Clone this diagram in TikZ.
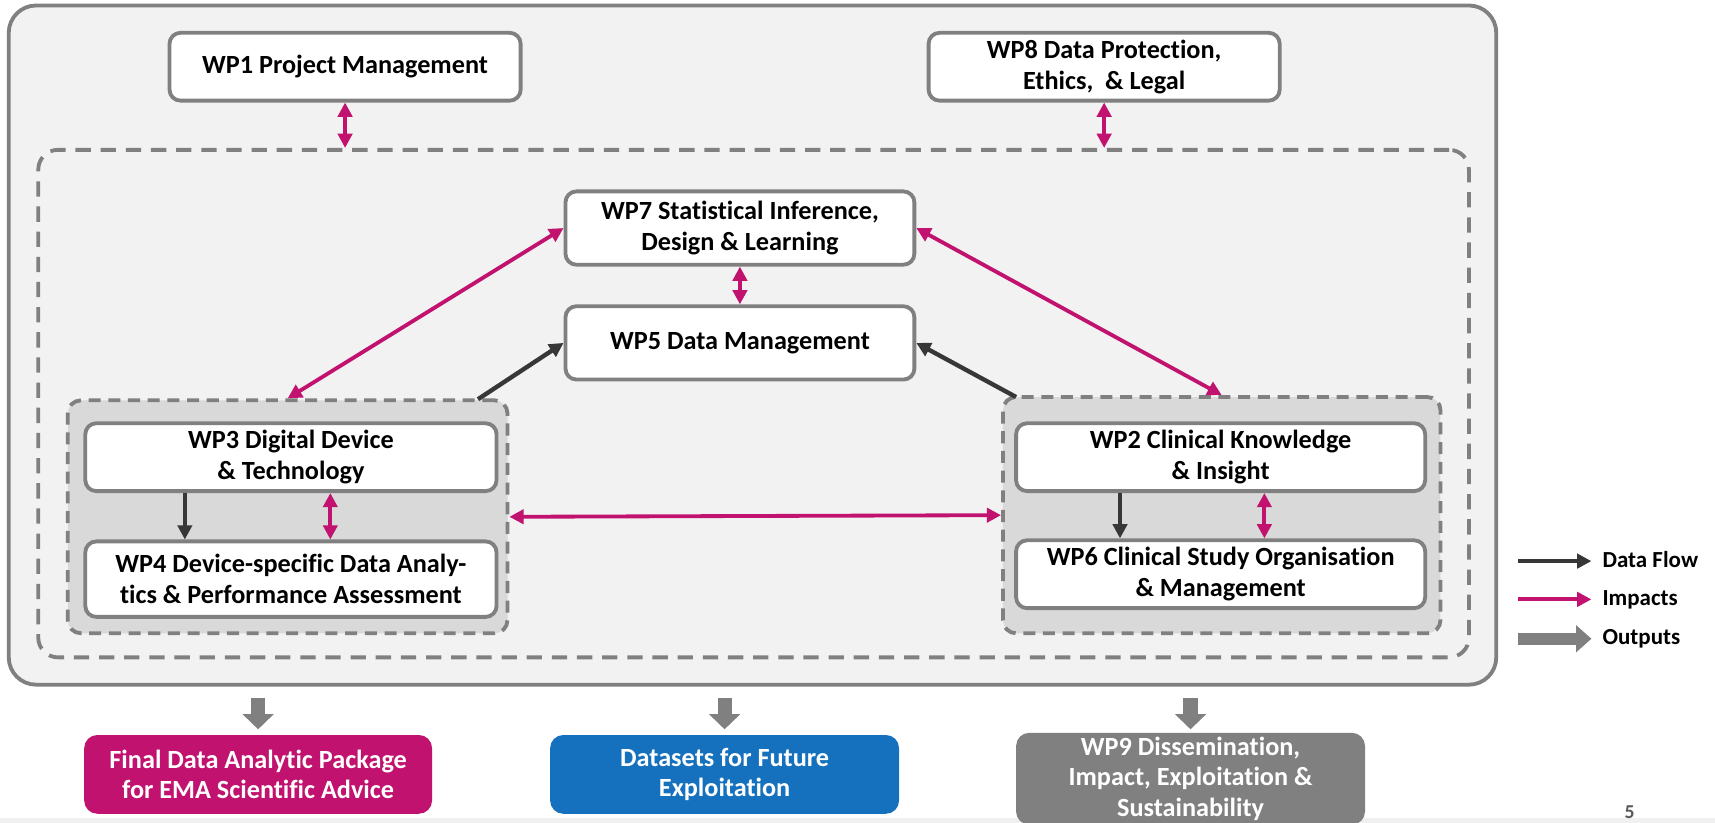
\documentclass[tikz,border=0pt]{standalone}
\usepackage{fontspec}
\setmainfont{Carlito}[Ligatures=NoCommon]
\usepackage{tikz}
\usetikzlibrary{arrows.meta,calc}

\definecolor{impact}{RGB}{192,18,110}
\definecolor{flowc}{RGB}{55,55,55}
\definecolor{edgegray}{RGB}{128,128,128}
\definecolor{panel}{RGB}{242,242,242}
\definecolor{grpfill}{RGB}{217,217,217}
\definecolor{dsblue}{RGB}{21,113,190}

\begin{document}
\begin{tikzpicture}[x=1pt,y=-1pt,>={Triangle[length=13pt,width=13pt]},
	wp/.style={draw=edgegray,line width=3.5pt,fill=white,rounded corners=10pt,align=center,inner sep=0pt,font=\bfseries\fontsize{24}{28}\selectfont},
	grp/.style={draw=edgegray,line width=3.5pt,fill=grpfill,dash pattern=on 11pt off 7pt,rounded corners=12pt},
	res/.style={rounded corners=12pt,text=white,align=center,inner sep=0pt,font=\bfseries\fontsize{24}{28}\selectfont},
	legend/.style={anchor=west,inner sep=0pt,text height=15pt,text depth=4pt,font=\bfseries\fontsize{21}{24}\selectfont},
	imp/.style={impact,line width=3.5pt,<->},
	flow/.style={flowc,line width=4pt,->},
	outp/.style={edgegray,line width=13pt,-{Triangle[length=14pt,width=28pt]}}]
	\useasboundingbox (0,0) rectangle (1568,752);
	\fill[black!6] (0,748) rectangle (1568,752);
	% frames
	\node[draw=edgegray,line width=3.5pt,fill=panel,rounded corners=25pt,minimum width=1360pt,minimum height=621pt] at (688,315.5) (outer) {};
	\node[draw=edgegray,line width=3.5pt,dash pattern=on 14pt off 9pt,rounded corners=18pt,minimum width=1308pt,minimum height=464pt] at (689,369) (core) {};
	\node[grp,minimum width=402pt,minimum height=213pt] at (263,472.5) (grpL) {};
	\node[grp,minimum width=400pt,minimum height=216pt] at (1117,471) (grpR) {};
	% work packages
	\node[wp,minimum width=321pt,minimum height=62pt] at (315.5,61) (wp1) {WP1 Project Management};
	\node[wp,minimum width=321pt,minimum height=62pt] at (1009.5,61) (wp8) {WP8 Data Protection,\\Ethics,\ \ \& Legal};
	\node[wp,minimum width=319pt,minimum height=67pt] at (676.5,208.5) (wp7) {WP7 Statistical Inference,\\Design \& Learning};
	\node[wp,minimum width=319pt,minimum height=67pt] at (676.5,313.5) (wp5) {WP5 Data Management};
	\node[wp,minimum width=376pt,minimum height=62pt] at (266,418) (wp3) {WP3 Digital Device\\\& Technology};
	\node[wp,minimum width=376pt,minimum height=69pt] at (266,529.5) (wp4) {WP4 Device-specific Data Analy-\\tics \& Performance Assessment};
	\node[wp,minimum width=374pt,minimum height=62pt] at (1116,418) (wp2) {WP2 Clinical Knowledge\\\& Insight};
	\node[wp,minimum width=374pt,minimum height=62pt] at (1116,525) (wp6) {WP6 Clinical Study Organisation\\\& Management};
	% results
	\node[res,fill=impact,minimum width=318pt,minimum height=72pt] at (236,708) (fin) {Final Data Analytic Package\\for EMA Scientific Advice};
	\node[res,fill=dsblue,minimum width=319pt,minimum height=72pt] at (662.5,708) (dset) {Datasets for Future\\Exploitation};
	\node[res,fill=edgegray,minimum width=319pt,minimum height=84pt] at (1088.5,712) (wp9) {WP9 Dissemination,\\Impact, Exploitation \&\\Sustainability};
	% connectors
	\coordinate (flowL) at (437,365);
	\coordinate (flowR) at (929,363);
	\path[imp] (wp1) edge (wp1 |- core.north);
	\path[imp] (wp8) edge (wp8 |- core.north);
	\path[imp] (wp7) edge (wp5);
	\path[imp] (wp7.west) edge (grpL.north);
	\path[imp] (wp7.east) edge (grpR.north);
	\path[imp] (grpL.east) edge (grpR.west);
	\path[flow] (flowL) edge (wp5.west);
	\path[flow] (flowR) edge (wp5.east);
	\path[flow] ([xshift=-97pt]wp3.south) edge ([xshift=-97pt]wp4.north);
	\path[imp] ([xshift=36pt]wp3.south) edge ([xshift=36pt]wp4.north);
	\path[flow] ([xshift=-92pt]wp2.south) edge ([xshift=-92pt]wp6.north);
	\path[imp] ([xshift=40pt]wp2.south) edge ([xshift=40pt]wp6.north);
	\draw[outp] ($(outer.south -| fin.north)+(0,10)$) -- ($(fin.north)+(0,-5)$);
	\draw[outp] ($(outer.south -| dset.north)+(0,10)$) -- ($(dset.north)+(0,-5)$);
	\draw[outp] ($(outer.south -| wp9.north)+(0,10)$) -- ($(wp9.north)+(0,-3)$);
	% legend
	\node[legend] at (1465,513) (lgflow) {Data Flow};
	\node[legend] at (1465,548) (lgimp) {Impacts};
	\node[legend] at (1465,584) (lgout) {Outputs};
	\coordinate (lgA) at (1388,513);
	\coordinate (lgB) at (1388,548);
	\coordinate (lgC) at (1388,584);
	\path[flow] (lgA) edge ([xshift=-10pt]lgflow.west);
	\path[impact,line width=3.5pt,->] (lgB) edge ([xshift=-10pt]lgimp.west);
	\draw[edgegray,line width=11pt,-{Triangle[length=14pt,width=24pt]}] (lgC) -- ([xshift=-10pt]lgout.west);
	\node[anchor=south,inner sep=0pt,text=black!65,font=\bfseries\fontsize{18}{22}\selectfont] at (1490,749) (page) {5};
\end{tikzpicture}
\end{document}
